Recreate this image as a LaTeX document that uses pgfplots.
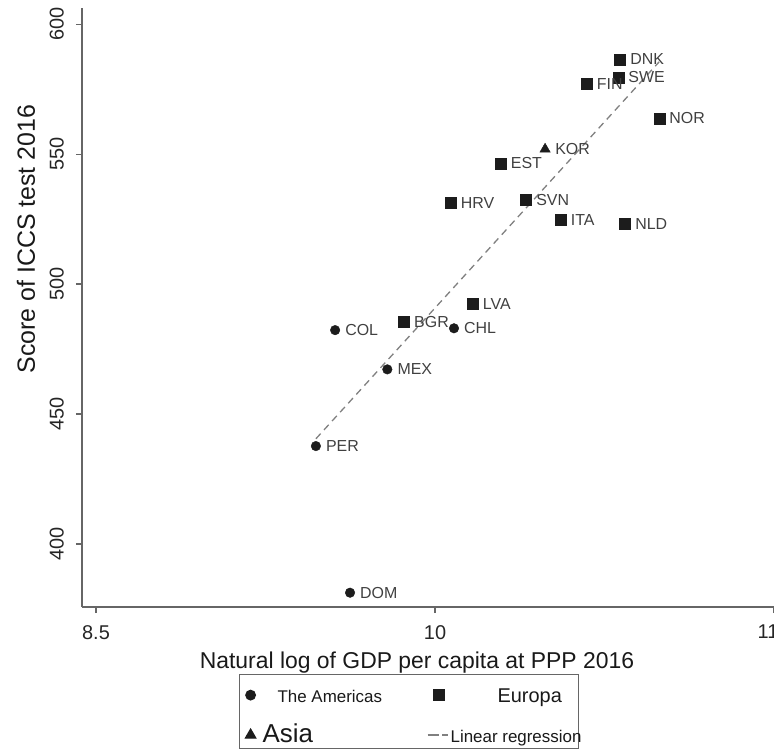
\documentclass[border=0pt]{standalone}
\usepackage{fontspec}
\setmainfont{Liberation Sans}
\usepackage{pgfplots}
\pgfplotsset{compat=1.18}
\usepackage{pgfplotstable}
\definecolor{mk}{HTML}{1C1C1C}
\definecolor{lab}{HTML}{404040}
\definecolor{axc}{HTML}{666666}
\definecolor{regc}{HTML}{808080}

\pgfplotsset{
  legone/.style={legend image code/.code={\draw[##1] plot coordinates {(0bp,0bp)}; \path[draw=none, fill=none] (-11bp,-7bp) rectangle (11bp,14bp);}},
  legtwo/.style={legend image code/.code={\draw[##1] plot coordinates {(0bp,0bp)}; \path[draw=none, fill=none] (-13bp,-7bp) rectangle (13bp,14bp);}},
  legdash/.style={legend image code/.code={\draw[##1, dash pattern=on 11bp off 3.5bp on 6bp off 20bp] (-11bp,0bp) -- (10bp,0bp); \path[draw=none, fill=none] (-13bp,-7bp) rectangle (13bp,14bp);}},
  ptlabels/.style={nodes near coords, point meta=explicit symbolic,
    nodes near coords style={anchor=west, xshift=10bp, font=\fontsize{16}{16}\selectfont, text=lab, inner sep=0bp}},
}

\pgfplotstableread{
x y label
9.473 437.7 PER
9.624 381.3 DOM
9.558 482.3 COL
9.789 467.2 MEX
10.084 483.0 CHL
}\americas
\pgfplotstableread{
x y label
10.819 586.4 DNK
10.811 579.5 SWE
10.671 576.9 FIN
10.992 563.7 NOR
10.291 546.4 EST
10.069 531.3 HRV
10.403 532.3 SVN
10.556 524.6 ITA
10.841 523.3 NLD
10.167 492.3 LVA
9.863 485.5 BGR
}\europa
\pgfplotstableread{
x y label
10.487 551.9 KOR
}\asia

\begin{document}
\begin{tikzpicture}
\begin{axis}[
  at={(0,0)}, anchor=south west,
  scale only axis, width=692bp, height=599bp,
  xmin=8.438, xmax=11.5, ymin=375.8, ymax=606.2,
  clip=false,
  axis x line*=bottom, axis y line*=left,
  axis line style={draw=axc, line width=1.4bp},
  xtick={8.5,10,11.5}, xticklabels={8.5,10,\hspace*{-12bp}11},
  ytick={400,450,500,550,600},
  minor tick num=0,
  tick align=outside, major tick length=6bp,
  major tick style={draw=axc, line width=1.2bp},
  /pgf/number format/assume math mode=true,
  ticklabel style={font=\fontsize{20}{20}\selectfont, text=black!85, inner sep=0bp},
  xticklabel style={anchor=north},
  yticklabel style={rotate=90, anchor=south},
  xticklabel shift=12bp, yticklabel shift=12bp,
  xlabel={Natural log of GDP per capita at PPP 2016},
  ylabel={Score of ICCS test 2016},
  label style={text=black!90, inner sep=0bp},
  xlabel style={font=\fontsize{23}{23}\selectfont, at={(axis description cs:0.4841,-0.1035)}, anchor=base},
  ylabel style={font=\fontsize{25}{25}\selectfont, at={(axis description cs:-0.0680,0.614)}, anchor=base},
  legend columns=2,
  legend style={at={(axis description cs:0.2269,-0.1119)}, anchor=north west,
    draw=axc, line width=1.2bp, fill=white,
    inner xsep=0bp, inner ysep=6.5bp, row sep=19bp, column sep=0bp,
    nodes={inner sep=0bp, text height=14bp, text depth=0bp, anchor=west, text=black!90},
    cells={anchor=west}},
]
\addplot[only marks, mark=*, mark size=4.8bp, draw=mk, fill=mk, ptlabels, legone]
  table[x=x, y=y, meta=label] {\americas};
\addlegendentry{\fontsize{17}{17}\selectfont\makebox[164bp][l]{\hspace*{16bp}The Americas}}

\addplot[only marks, mark=square*, mark size=5.5bp, draw=mk, fill=mk, ptlabels, legtwo]
  table[x=x, y=y, meta=label] {\europa};
\addlegendentry{\fontsize{20}{20}\selectfont\makebox[127bp][l]{\hspace*{46bp}Europa}}

\addplot[only marks, mark=triangle*, mark size=6bp, draw=mk, fill=mk, ptlabels, legone]
  table[x=x, y=y, meta=label] {\asia};
\addlegendentry{\fontsize{26}{26}\selectfont\makebox[164bp][l]{\hspace*{1bp}Asia}}

\addplot[regc, line width=1.3bp, dash pattern=on 7bp off 5bp, legdash]
  coordinates {(9.473,440.5) (10.992,585.5)};
\addlegendentry{\fontsize{17}{17}\selectfont\makebox[127bp][l]{\hspace*{-1bp}Linear regression}}
\end{axis}
\pgfresetboundingbox
\path[use as bounding box] (-82bp,-143bp) rectangle (692bp,607bp);
\end{tikzpicture}
\end{document}
